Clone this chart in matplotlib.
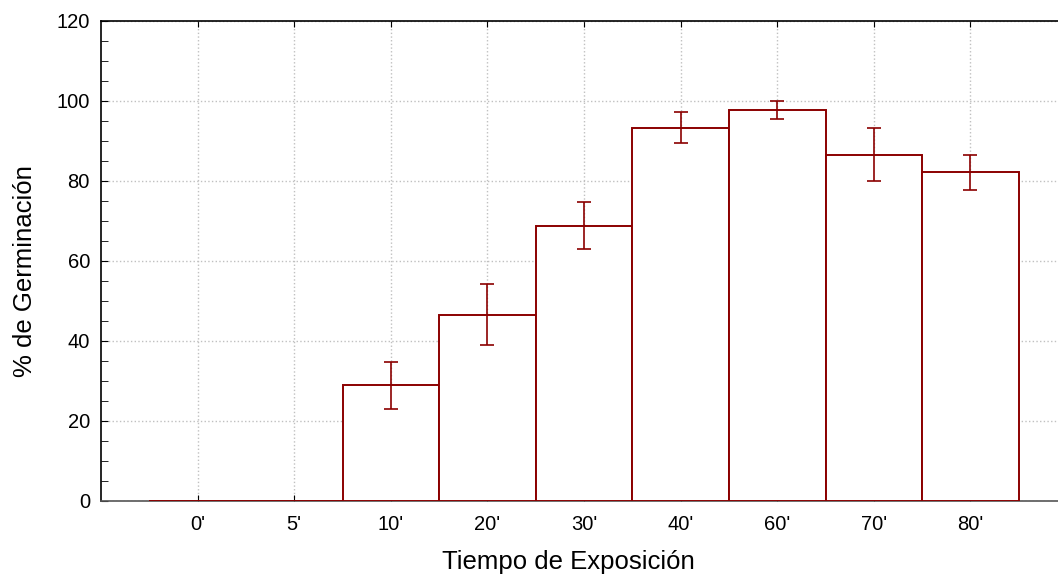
import matplotlib
matplotlib.use("Agg")
import matplotlib.pyplot as plt
from matplotlib.ticker import MultipleLocator

categories = ["0'", "5'", "10'", "20'", "30'", "40'", "60'", "70'", "80'"]
germination = [0, 0, 28.9, 46.6, 68.8, 93.3, 97.8, 86.6, 82.2]
errors = [0, 0, 5.9, 7.7, 5.9, 3.9, 2.2, 6.6, 4.4]

plt.rcParams['font.family'] = ['Liberation Sans', 'DejaVu Sans']

fig = plt.figure(figsize=(10.58, 5.74), dpi=100)
ax = fig.add_axes([101/1058, 73/574, 966/1058, 480/574])

x = list(range(len(categories)))
red = '#8b0000'
ax.bar(x, germination, width=1.0, facecolor='white', edgecolor=red, linewidth=1.4, zorder=3)
err_x = [xi for xi, e in zip(x, errors) if e > 0]
err_y = [g for g, e in zip(germination, errors) if e > 0]
err_e = [e for e in errors if e > 0]
ax.errorbar(err_x, err_y, yerr=err_e, fmt='none', ecolor=red, elinewidth=1.2,
            capsize=5, capthick=1.2, zorder=4)

ax.set_xlim(-1, 9)
ax.set_ylim(0, 120)
ax.set_xticks(x)
ax.set_xticklabels(categories)
ax.yaxis.set_major_locator(MultipleLocator(20))
ax.yaxis.set_minor_locator(MultipleLocator(5))

ax.grid(True, which='major', linestyle=':', color='#c0c0c0', linewidth=1.0, zorder=0)
ax.set_axisbelow(True)

ax.tick_params(axis='both', which='both', direction='in', labelsize=14.5, colors='black')
ax.tick_params(axis='x', top=True, bottom=True, length=4, pad=10)
ax.tick_params(axis='y', which='major', length=5, pad=8)
ax.tick_params(axis='y', which='minor', length=5)

ax.spines['right'].set_visible(False)
ax.spines['left'].set_color('black')
ax.spines['top'].set_color('black')
ax.spines['bottom'].set_color('#555555')
for s in ax.spines.values():
    s.set_linewidth(1.2)

ax.set_xlabel('Tiempo de Exposición', fontsize=18.5)
ax.set_ylabel('% de Germinación', fontsize=18.5)
ax.xaxis.set_label_coords(0.484, -0.102)
ax.yaxis.set_label_coords(-0.066, 0.479)

fig.savefig('out.png', dpi=100)
